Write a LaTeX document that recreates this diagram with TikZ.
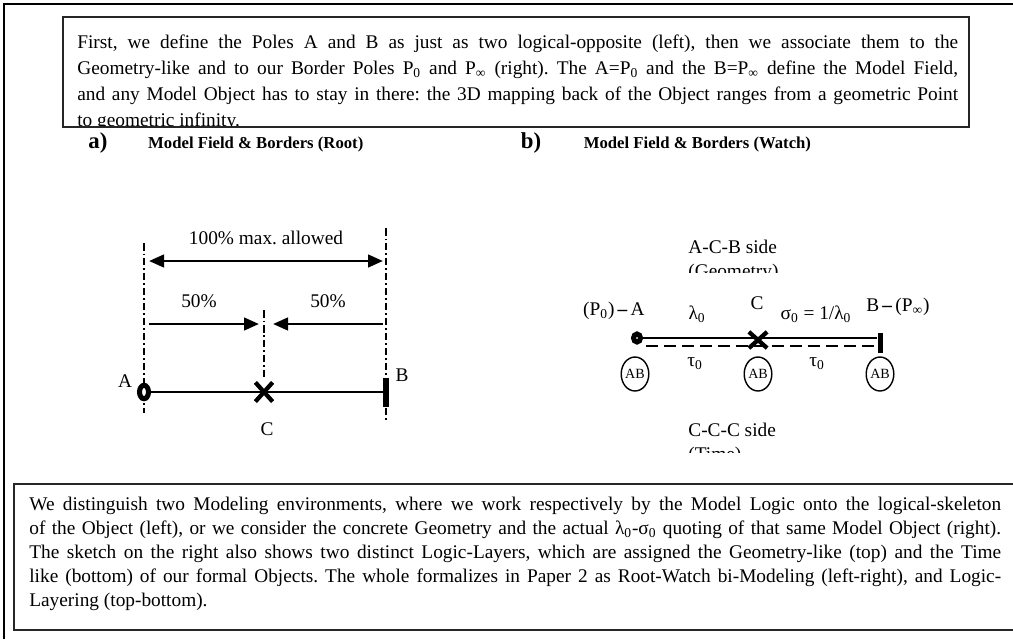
\documentclass[tikz,border=0pt]{standalone}
\usepackage{fontspec}
\setmainfont{Liberation Serif}
\usetikzlibrary{positioning,arrows.meta,shapes.geometric,shapes.misc}
\hyphenpenalty=10000
\exhyphenpenalty=10000
\frenchspacing

\begin{document}
\begin{tikzpicture}[
    x=0.02cm, y=-0.02cm,
    node distance=0.1cm,
    every node/.style={font=\fontsize{11}{14}\selectfont, inner sep=0pt},
    para/.style={anchor=north west, align=justify},
    tag/.style={font=\bfseries\fontsize{13}{15}\selectfont},
    heading/.style={font=\bfseries\fontsize{9.5}{11}\selectfont},
    frameline/.style={line width=1.2pt},
    boxline/.style={line width=0.8pt, draw=black!85},
    guide/.style={line width=0.9pt, dash pattern=on 0.15cm off 0.06cm on 0.03cm off 0.06cm},
    dim/.style={line width=1.6pt, >={Triangle[length=0.3cm,width=0.25cm]}},
    axis/.style={line width=1.2pt},
    timeaxis/.style={line width=1.4pt, dash pattern=on 0.24cm off 0.12cm},
    poleA/.style={ellipse, draw, fill=white, line width=0.1cm, minimum width=0.18cm, minimum height=0.27cm},
    poleC/.style={cross out, draw, line width=0.085cm, minimum width=0.26cm, minimum height=0.3cm},
    poleB/.style={rectangle, fill=black, minimum width=0.11cm, minimum height=0.58cm},
    abmark/.style={ellipse, draw, line width=0.8pt, minimum width=0.48cm, minimum height=0.68cm, font=\fontsize{8}{9}\selectfont}
]
\useasboundingbox (0,0) rectangle (1013,639);

% Frame
\draw[frameline] (4,639) -- (4,4) -- (1013,4);

% Top text
\begin{scope}
  \clip (63,17) rectangle (969,127);
  \node[para, text width=17.62cm, font=\fontsize{11}{14.8}\selectfont] (intro) at (77,35) {First, we define the Poles A and B as just as two logical-opposite (left), then we associate them to the\linebreak
  Geometry-like and to our Border Poles P\textsubscript{0} and P\textsubscript{∞} (right). The A=P\textsubscript{0} and the B=P\textsubscript{∞} define the Model Field,\linebreak
  and any Model Object has to stay in there: the 3D mapping back of the Object ranges from a geometric Point\linebreak
  to geometric infinity.};
\end{scope}
\draw[boxline] (63,17) rectangle (969,127);

% Headings
\node[tag] (tagA) at (98,143) {a)};
\node[heading, base right=0.8cm of tagA] (headA) {Model Field \& Borders (Root)};
\node[tag] (tagB) at (531,143) {b)};
\node[heading, base right=0.84cm of tagB] (headB) {Model Field \& Borders (Watch)};

% a) Root: guides and quotes
\coordinate (gA1) at (144,243); \coordinate (gA2) at (144,413);
\coordinate (gC1) at (264,310); \coordinate (gC2) at (264,380);
\coordinate (gB1) at (386,228); \coordinate (gB2) at (386,420);
\draw[guide] (gA1) -- (gA2);
\draw[guide] (gC1) -- (gC2);
\draw[guide] (gB1) -- (gB2);

\coordinate (fullL) at (149,261); \coordinate (fullR) at (383,261);
\coordinate (halfL) at (149,324); \coordinate (halfC1) at (259,324);
\coordinate (halfC2) at (273,324); \coordinate (halfR) at (383,324);
\draw[dim, <->] (fullL) -- node[above=0.3cm] (fullq) {100\% max. allowed} (fullR);
\draw[dim, ->] (halfL) -- node[above=0.3cm, xshift=-0.1cm] (leftq) {50\%} (halfC1);
\draw[dim, ->] (halfR) -- node[above=0.3cm] (rightq) {50\%} (halfC2);

% a) Root: poles
\node[poleB] (B) at (386,392) {};
\node[poleA] (A) at (144,392) {};
\draw[axis] (A) -- (B);
\node[poleC] (C) at (264,392) {};
\node (labA) at (125,381) {A};
\node (labB) at (402,375) {B};
\node[below=0.42cm of C, xshift=0.06cm] (labC) {C};

% b) Watch: layer labels
\begin{scope}
  \clip (600,225) rectangle (900,272);
  \node[anchor=north west, align=left, font=\fontsize{11}{13.7}\selectfont] (geomside) at (688,240) {A-C-B side\\(Geometry)};
\end{scope}
\begin{scope}
  \clip (600,410) rectangle (900,452);
  \node[anchor=north west, align=left, font=\fontsize{11}{13.7}\selectfont] (timeside) at (688,423) {C-C-C side\\(Time)};
\end{scope}

% b) Watch: poles
\node[poleB, minimum height=0.4cm, minimum width=0.1cm] (Bw) at (880,343) {};
\node[poleA, minimum width=0.14cm, minimum height=0.16cm, line width=0.1cm] (Aw) at (637,338) {};
\draw[axis] (Aw) -- (Aw -| Bw.west);
\coordinate (tStart) at (646,346);
\draw[timeaxis] (tStart) -- (tStart -| Bw.west);
\node[poleC, minimum width=0.28cm, minimum height=0.24cm] (Cw) at (758,340) {};

\node[anchor=east] (labAw) at (645,311) {(P\textsubscript{0})\,\textbf{–}\,A};
\node[anchor=west] (labBw) at (866,307) {B\,\textbf{–}\,(P\textsubscript{∞})};
\node (labCw) at (757,303) {C};
\node (lam) at (697,314) {λ\textsubscript{0}};
\node (sig) at (816,314) {σ\textsubscript{0} = 1/λ\textsubscript{0}};
\node (tau1) at (695,364) {τ\textsubscript{0}};
\node (tau2) at (817,364) {τ\textsubscript{0}};

\node[abmark] (abA) at (635,374) {AB};
\node[abmark] (abC) at (758,374) {AB};
\node[abmark] (abB) at (880,374) {AB};

% Bottom text
\draw[boxline] (1030,484) -- (14,484) -- (14,630) -- (1030,630);
\node[para, text width=19.44cm, font=\fontsize{11}{13.66}\selectfont] (outro) at (29,497) {We distinguish two Modeling environments, where we work respectively by the Model Logic onto the logical-skeleton\linebreak
  of the Object (left), or we consider the concrete Geometry and the actual λ\textsubscript{0}-σ\textsubscript{0} quoting of that same Model Object (right).\linebreak
  The sketch on the right also shows two distinct Logic-Layers, which are assigned the Geometry-like (top) and the Time\linebreak
  like (bottom) of our formal Objects. The whole formalizes in Paper 2 as Root-Watch bi-Modeling (left-right), and Logic-\linebreak
  Layering (top-bottom).};

\end{tikzpicture}
\end{document}
